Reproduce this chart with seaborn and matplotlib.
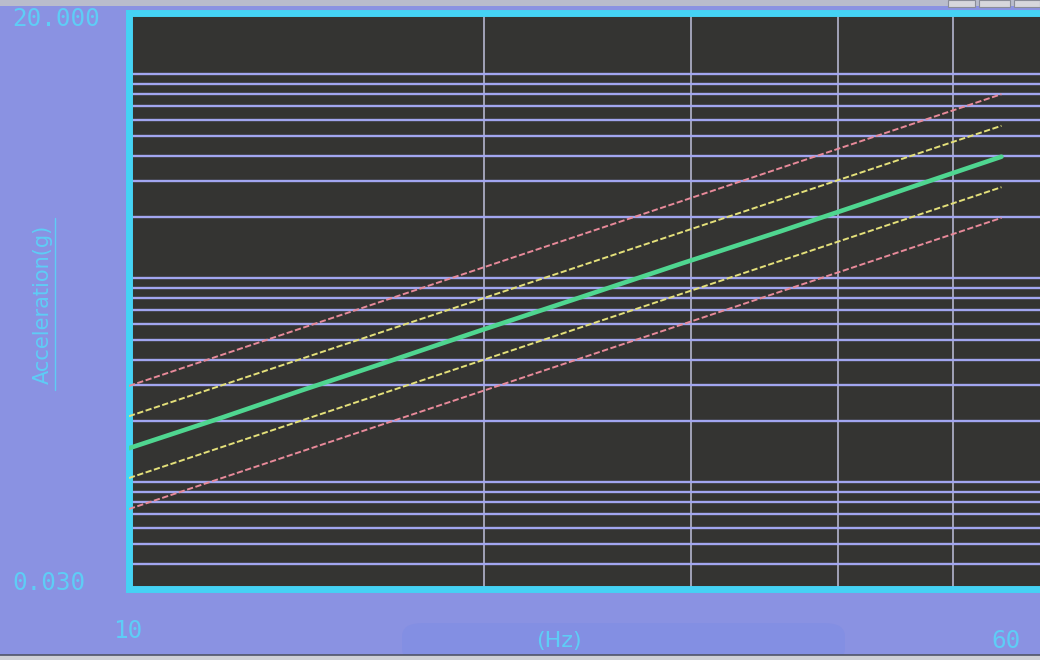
import numpy as np
import pandas as pd
import matplotlib
matplotlib.use("Agg")
import matplotlib.pyplot as plt
import seaborn as sns
from matplotlib.lines import Line2D
from matplotlib.patches import FancyBboxPatch, Rectangle
from matplotlib.ticker import LogLocator, NullFormatter, FixedLocator

# ---------------- data ----------------
green_freq = [10, 12, 14, 16.4, 19.9, 24.2, 29.4, 35.7, 42, 48, 55]
green_acc = [0.147, 0.208, 0.282, 0.382, 0.557, 0.81, 1.18, 1.70, 2.33, 3.03, 3.95]

limit_freq = [10, 55]
abort_hi = [0.297, 8.0]
alarm_hi = [0.211, 5.6]
alarm_lo = [0.105, 2.8]
abort_lo = [0.074, 1.98]

x_tick_labels = ["10", "60"]
y_tick_labels = ["20.000", "0.030"]
x_label = "(Hz)"
y_label = "Acceleration(g)"
x_limits = [10, 60]
y_limits = [0.03, 20]
x_grid = [20, 30, 40, 50]

# ---------------- styling ----------------
FIG_BG = "#8a92e2"
PLOT_BG = "#343432"
CYAN = "#45d2f4"
TEXT = "#5ecdf6"
HGRID = "#a2a6f0"
VGRID = "#bfc0dc"
GREEN = "#4fd690"
RED = "#e88a9a"
YELLOW = "#e4e07a"

sns.set_style("dark")
plt.rcParams["font.family"] = ["DejaVu Sans"]

W, H = 1040, 660
fig = plt.figure(figsize=(W / 100, H / 100), dpi=100, facecolor=FIG_BG)

# axes geometry in pixels
left_px, right_px = 129, 1046
top_px, bottom_px = 13, 589
ax = fig.add_axes([left_px / W, (H - bottom_px) / H,
                   (right_px - left_px) / W, (bottom_px - top_px) / H])
ax.set_facecolor(PLOT_BG)

df_g = pd.DataFrame({"freq": green_freq, "acc": green_acc})
sns.lineplot(data=df_g, x="freq", y="acc", ax=ax, color=GREEN, lw=3.3,
             estimator=None, sort=False, zorder=5)

for vals, col in [(abort_hi, RED), (alarm_hi, YELLOW), (alarm_lo, YELLOW), (abort_lo, RED)]:
    d = pd.DataFrame({"freq": limit_freq, "acc": vals})
    sns.lineplot(data=d, x="freq", y="acc", ax=ax, color=col, lw=1.4,
                 estimator=None, sort=False, zorder=4, dashes=False)
    ax.lines[-1].set_dashes((3.2, 1.3))

ax.set_xscale("log")
ax.set_yscale("log")
ax.set_xlim(*x_limits)
ax.set_ylim(*y_limits)

ax.xaxis.set_major_locator(FixedLocator(x_grid))
ax.xaxis.set_minor_locator(FixedLocator([]))
ax.xaxis.set_major_formatter(NullFormatter())
ax.xaxis.set_minor_formatter(NullFormatter())
ax.yaxis.set_major_locator(LogLocator(base=10))
ax.yaxis.set_minor_locator(LogLocator(base=10, subs=np.arange(2, 10)))
ax.yaxis.set_major_formatter(NullFormatter())
ax.yaxis.set_minor_formatter(NullFormatter())
ax.tick_params(which="both", length=0)
ax.set_xlabel("")
ax.set_ylabel("")

ax.set_axisbelow(True)
ax.grid(False)
ax.grid(True, which="both", axis="y", color=HGRID, lw=1.7)
ax.grid(True, which="major", axis="x", color=VGRID, lw=1.1)

for s in ["left", "top", "bottom"]:
    ax.spines[s].set_visible(True)
    ax.spines[s].set_color(CYAN)
    ax.spines[s].set_linewidth(5.0)
ax.spines["right"].set_visible(False)

# ---------------- decoration in figure pixel coords ----------------
def fx(px):
    return px / W

def fy(py):
    return (H - py) / H

# Hz label highlight panel
fig.patches.append(FancyBboxPatch((fx(402), fy(662)), fx(845) - fx(402), fy(623) - fy(662),
                                  boxstyle="round,pad=0,rounding_size=0.02",
                                  transform=fig.transFigure, facecolor="#7f8de4",
                                  edgecolor="none", alpha=0.6, zorder=0))
# window frame bands
fig.patches.append(Rectangle((0, fy(660)), 1, fy(655) - fy(660), transform=fig.transFigure,
                             facecolor="#cfd0d6", edgecolor="none", zorder=1))
fig.add_artist(Line2D([0, 1], [fy(655), fy(655)], transform=fig.transFigure,
                      color="#505468", lw=1.2))
fig.patches.append(Rectangle((0, fy(6)), 1, fy(0) - fy(6), transform=fig.transFigure,
                             facecolor="#b9bccc", edgecolor="none", zorder=1))
for x0, x1 in [(948, 975), (979, 1010), (1014, 1040)]:
    fig.patches.append(Rectangle((fx(x0), fy(7)), fx(x1) - fx(x0), fy(0) - fy(7),
                                 transform=fig.transFigure, facecolor="#d6d6dc",
                                 edgecolor="#8a8c98", lw=0.8, zorder=2))

mono = "DejaVu Sans Mono"
fig.text(fx(12), fy(19), y_tick_labels[0], color=TEXT, fontsize=17.5, family=mono,
         ha="left", va="center")
fig.text(fx(12), fy(583), y_tick_labels[1], color=TEXT, fontsize=17.5, family=mono,
         ha="left", va="center")
fig.text(fx(128), fy(631), x_tick_labels[0], color=TEXT, fontsize=17.5, family=mono,
         ha="center", va="center")
fig.text(fx(1006), fy(641), x_tick_labels[1], color=TEXT, fontsize=17.5, family=mono,
         ha="center", va="center")
fig.text(fx(559), fy(641), x_label, color=TEXT, fontsize=16, ha="center", va="center")
fig.text(fx(43), fy(304), y_label, color=TEXT, fontsize=15, rotation=90,
         ha="center", va="center")
fig.add_artist(Line2D([fx(55), fx(55)], [fy(390), fy(218)], transform=fig.transFigure,
                      color=TEXT, lw=1.0))

fig.savefig("out.png", dpi=100, facecolor=FIG_BG)
